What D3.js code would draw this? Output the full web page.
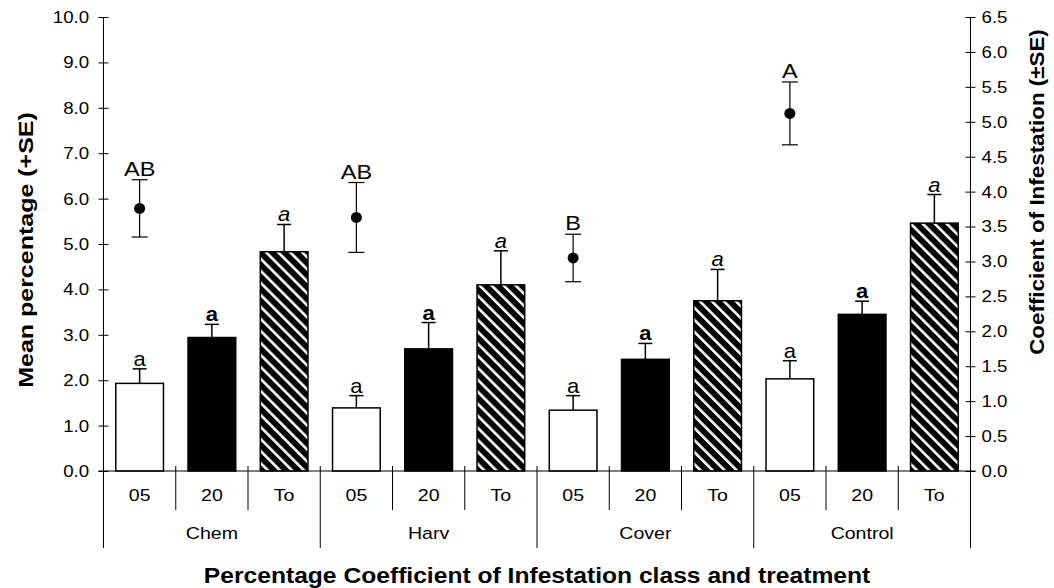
<!DOCTYPE html>
<html>
<head>
<meta charset="utf-8">
<script src="https://cdn.jsdelivr.net/npm/d3@7"></script>
<style>
  body { margin: 0; background: #fff; }
  text { font-family: "Liberation Sans", Arial, sans-serif; fill: #000; }
</style>
</head>
<body>
<div id="chart"></div>
<script>
// groups on the x axis and infestation classes inside each group
var groups = ["Chem", "Harv", "Cover", "Control"];
var classes = ["05", "20", "To"];

// mean percentage (+SE), one array per class, in group order
var pct05 = [1.93, 1.39, 1.34, 2.03];
var pct05Se = [0.32, 0.27, 0.32, 0.40];
var pct20 = [2.94, 2.69, 2.46, 3.45];
var pct20Se = [0.29, 0.58, 0.35, 0.29];
var pctTo = [4.83, 4.10, 3.75, 5.46];
var pctToSe = [0.60, 0.75, 0.69, 0.63];
var barLetters = ["a", "a", "a", "a"];

// coefficient of infestation (±SE), right axis
var coi = [3.76, 3.63, 3.05, 5.12];
var coiSe = [0.41, 0.50, 0.34, 0.45];
var coiLetters = ["AB", "AB", "B", "A"];

var leftTicks = [0, 1, 2, 3, 4, 5, 6, 7, 8, 9, 10];
var rightTicks = [0, 0.5, 1, 1.5, 2, 2.5, 3, 3.5, 4, 4.5, 5, 5.5, 6, 6.5];

// the original export draws its text a little wide, so stretch it along the line
function place(sel, x, y, sx, rot) {
    sel.attr("transform", function (d) {
        var xx = typeof x == "function" ? x(d) : x;
        var yy = typeof y == "function" ? y(d) : y;
        return "translate(" + xx + "," + yy + ") rotate(" + (rot || 0) + ") scale(" + sx + ",1)";
    });
    return sel;
}

function init() {
    var w = 1054, h = 588;
    var left = 103.5, right = 970.5, top = 17, base = 471;

    var svg = d3.select("#chart").append("svg")
        .attr("width", w).attr("height", h);

    var defs = svg.append("defs");
    var pat = defs.append("pattern")
        .attr("id", "hatch")
        .attr("patternUnits", "userSpaceOnUse")
        .attr("width", 8.5).attr("height", 8.5)
        .attr("patternTransform", "rotate(-45)");
    pat.append("rect").attr("width", 8.5).attr("height", 8.5).attr("fill", "#000");
    pat.append("rect").attr("width", 2.6).attr("height", 8.5).attr("fill", "#fff");

    // one band per class inside a group
    var keys = [];
    groups.forEach(function (g) {
        classes.forEach(function (c) { keys.push(g + "|" + c); });
    });
    var x = d3.scaleBand().domain(keys).range([left, right]).padding(0);
    var yL = d3.scaleLinear().domain([0, 10]).range([base, top]);
    var yR = d3.scaleLinear().domain([0, 6.5]).range([base, top]);

    // flatten bars
    var vals = { "05": pct05, "20": pct20, "To": pctTo };
    var ses = { "05": pct05Se, "20": pct20Se, "To": pctToSe };
    var bars = [];
    groups.forEach(function (g, i) {
        classes.forEach(function (c) {
            bars.push({ g: g, c: c, v: vals[c][i], se: ses[c][i], letter: barLetters[i] });
        });
    });

    var bw = x.bandwidth() * 0.66;
    var cx = function (d) { return x(d.g + "|" + d.c) + x.bandwidth() / 2; };

    // error bars (+SE only)
    var eb = svg.append("g").attr("stroke", "#000").attr("stroke-width", 1.5);
    eb.selectAll("line.v").data(bars).enter().append("line")
        .attr("x1", cx).attr("x2", cx)
        .attr("y1", function (d) { return yL(d.v); })
        .attr("y2", function (d) { return yL(d.v + d.se); });
    eb.selectAll("line.c").data(bars).enter().append("line")
        .attr("x1", function (d) { return cx(d) - 7; })
        .attr("x2", function (d) { return cx(d) + 7; })
        .attr("y1", function (d) { return yL(d.v + d.se); })
        .attr("y2", function (d) { return yL(d.v + d.se); });

    svg.append("g").selectAll("rect").data(bars).enter().append("rect")
        .attr("x", function (d) { return cx(d) - bw / 2; })
        .attr("y", function (d) { return yL(d.v); })
        .attr("width", bw)
        .attr("height", function (d) { return base - yL(d.v); })
        .attr("fill", function (d) {
            if (d.c == "05") return "#fff";
            if (d.c == "20") return "#000";
            return "url(#hatch)";
        })
        .attr("stroke", "#000").attr("stroke-width", 1.5);

    var bl = svg.append("g").selectAll("text").data(bars).enter().append("text")
        .attr("text-anchor", "middle")
        .attr("font-size", "20px")
        .attr("font-weight", function (d) { return d.c == "20" ? "bold" : "normal"; })
        .attr("font-style", function (d) { return d.c == "To" ? "italic" : "normal"; })
        .text(function (d) { return d.letter; });
    place(bl, cx, function (d) { return yL(d.v + d.se) - 3; }, 1.1);

    // coefficient of infestation points, placed on the 05 band of each group
    var pts = groups.map(function (g, i) {
        return { g: g, c: "05", v: coi[i], se: coiSe[i], letter: coiLetters[i] };
    });
    var pg = svg.append("g").attr("stroke", "#000").attr("stroke-width", 1.2);
    pg.selectAll("line.v").data(pts).enter().append("line")
        .attr("x1", cx).attr("x2", cx)
        .attr("y1", function (d) { return yR(d.v - d.se); })
        .attr("y2", function (d) { return yR(d.v + d.se); });
    [1, -1].forEach(function (s) {
        pg.selectAll(null).data(pts).enter().append("line")
            .attr("x1", function (d) { return cx(d) - 8; })
            .attr("x2", function (d) { return cx(d) + 8; })
            .attr("y1", function (d) { return yR(d.v + s * d.se); })
            .attr("y2", function (d) { return yR(d.v + s * d.se); });
    });
    svg.append("g").selectAll("circle").data(pts).enter().append("circle")
        .attr("cx", cx).attr("cy", function (d) { return yR(d.v); })
        .attr("r", 5.5).attr("fill", "#000");
    var pl = svg.append("g").selectAll("text").data(pts).enter().append("text")
        .attr("text-anchor", "middle")
        .attr("font-size", "21px")
        .text(function (d) { return d.letter; });
    place(pl, cx, function (d) { return yR(d.v + d.se) - 4; }, 1.12);

    // axes
    var axL = svg.append("g").attr("transform", "translate(" + left + ",0)")
        .call(d3.axisLeft(yL).tickValues(leftTicks).tickSize(5)
            .tickFormat(d3.format(".1f")));
    var axR = svg.append("g").attr("transform", "translate(" + right + ",0)")
        .call(d3.axisRight(yR).tickValues(rightTicks).tickSize(5)
            .tickFormat(d3.format(".1f")));
    [axL, axR].forEach(function (ax) {
        ax.select(".domain").remove();
        ax.selectAll(".tick line").attr("stroke", "#000");
        ax.selectAll("text").attr("font-size", "17px")
            .attr("font-family", "Liberation Sans, Arial, sans-serif")
            .attr("transform", "scale(1.1,1)");
    });
    axL.selectAll(".tick line").attr("x2", 5).attr("x1", -5);
    axL.selectAll("text").attr("x", -13);
    axR.selectAll(".tick line").attr("x1", -5).attr("x2", 5);
    axR.selectAll("text").attr("x", 10);

    // axis lines
    svg.append("line").attr("x1", left).attr("x2", left).attr("y1", top).attr("y2", 548)
        .attr("stroke", "#000");
    svg.append("line").attr("x1", right).attr("x2", right).attr("y1", top).attr("y2", 548)
        .attr("stroke", "#000");
    svg.append("line").attr("x1", left - 5).attr("x2", right + 5).attr("y1", base).attr("y2", base)
        .attr("stroke", "#000");

    // category separators and labels
    var cats = svg.append("g");
    keys.forEach(function (k, i) {
        if (i == 0) return;
        var long = i % classes.length == 0;
        cats.append("line")
            .attr("x1", x(k)).attr("x2", x(k))
            .attr("y1", base - 5).attr("y2", long ? 548 : 510)
            .attr("stroke", "#000");
    });
    var cl = cats.selectAll("text.c").data(keys).enter().append("text")
        .attr("text-anchor", "middle")
        .attr("font-size", "17px")
        .text(function (k) { return k.split("|")[1]; });
    place(cl, function (k) { return x(k) + x.bandwidth() / 2; }, 501, 1.15);
    var gl = cats.selectAll("text.g").data(groups).enter().append("text")
        .attr("text-anchor", "middle")
        .attr("font-size", "17px")
        .text(function (g) { return g; });
    place(gl, function (g) { return x(g + "|" + classes[1]) + x.bandwidth() / 2; }, 539, 1.15);

    // titles
    place(svg.append("text")
        .attr("text-anchor", "middle")
        .attr("font-size", "22px").attr("font-weight", "bold")
        .text("Percentage Coefficient of Infestation class and treatment"), 537, 583, 1.12);
    place(svg.append("text")
        .attr("text-anchor", "middle")
        .attr("font-size", "20px").attr("font-weight", "bold")
        .text("Mean percentage (+SE)"), 33, 250, 1.25, -90);
    place(svg.append("text")
        .attr("text-anchor", "middle")
        .attr("font-size", "20px").attr("font-weight", "bold")
        .text("Coefficient of Infestation (±SE)"), 1044, 192, 1.12, -90);
}

window.onload = init;
</script>
</body>
</html>
